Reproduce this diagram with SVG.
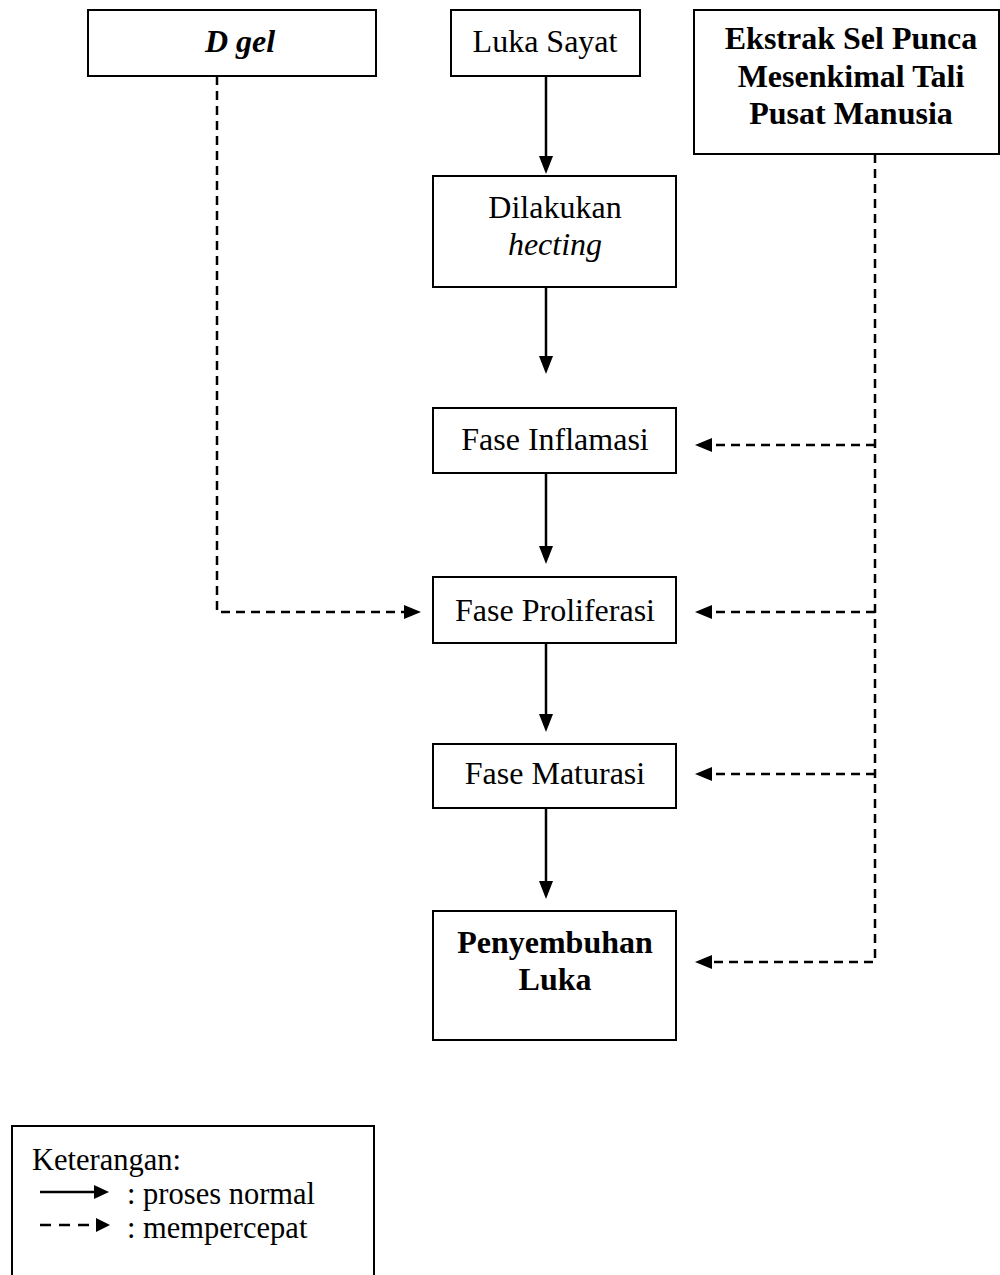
<svg xmlns="http://www.w3.org/2000/svg" width="1000" height="1275" viewBox="0 0 1000 1275">
<style>
.box{fill:#fff;stroke:#000;stroke-width:2}
.t{font-family:"Liberation Serif","Times New Roman",serif;font-size:32px;fill:#000;text-anchor:middle}
.b{font-weight:bold}
.i{font-style:italic}
.lg{font-family:"Liberation Serif","Times New Roman",serif;font-size:30.5px;fill:#000}
.s{stroke:#000;stroke-width:2.5;fill:none}
.d{stroke:#000;stroke-width:2.5;fill:none;stroke-dasharray:9,6}
.ah{fill:#000}
</style>
<rect width="1000" height="1275" fill="#fff"/>
<g id="connectors">
  <line class="s" x1="546" y1="76" x2="546" y2="158"/>
  <polygon class="ah" points="539,156 553,156 546,174"/>
  <line class="s" x1="546" y1="287" x2="546" y2="358"/>
  <polygon class="ah" points="539,356 553,356 546,374"/>
  <line class="s" x1="546" y1="473" x2="546" y2="548"/>
  <polygon class="ah" points="539,546 553,546 546,564"/>
  <line class="s" x1="546" y1="643" x2="546" y2="716"/>
  <polygon class="ah" points="539,714 553,714 546,732"/>
  <line class="s" x1="546" y1="808" x2="546" y2="883"/>
  <polygon class="ah" points="539,881 553,881 546,899"/>
  <polyline class="d" points="217,76 217,612 406,612"/>
  <polygon class="ah" points="404,605 404,619 421,612"/>
  <polyline class="d" points="875,154 875,962 712,962"/>
  <line class="d" x1="875" y1="445" x2="712" y2="445"/>
  <line class="d" x1="875" y1="612" x2="712" y2="612"/>
  <line class="d" x1="875" y1="774" x2="712" y2="774"/>
  <polygon class="ah" points="712,438 712,452 695,445"/>
  <polygon class="ah" points="712,605 712,619 695,612"/>
  <polygon class="ah" points="712,767 712,781 695,774"/>
  <polygon class="ah" points="712,955 712,969 695,962"/>
</g>
<g id="dgel"><rect class="box" x="88" y="10" width="288" height="66"/><text class="t b i" x="240" y="52">D gel</text></g>
<g id="luka-sayat"><rect class="box" x="451" y="10" width="189" height="66"/><text class="t" x="545" y="52">Luka Sayat</text></g>
<g id="ekstrak"><rect class="box" x="694" y="10" width="305" height="144"/><text class="t b" x="851" y="49">Ekstrak Sel Punca</text><text class="t b" x="851" y="87">Mesenkimal Tali</text><text class="t b" x="851" y="124">Pusat Manusia</text></g>
<g id="hecting"><rect class="box" x="433" y="176" width="243" height="111"/><text class="t" x="555" y="218">Dilakukan</text><text class="t i" x="555" y="255">hecting</text></g>
<g id="inflamasi"><rect class="box" x="433" y="408" width="243" height="65"/><text class="t" x="555" y="450">Fase Inflamasi</text></g>
<g id="proliferasi"><rect class="box" x="433" y="577" width="243" height="66"/><text class="t" x="555" y="621">Fase Proliferasi</text></g>
<g id="maturasi"><rect class="box" x="433" y="744" width="243" height="64"/><text class="t" x="555" y="784">Fase Maturasi</text></g>
<g id="penyembuhan"><rect class="box" x="433" y="911" width="243" height="129"/><text class="t b" x="555" y="953">Penyembuhan</text><text class="t b" x="555" y="990">Luka</text></g>
<g id="legend">
  <polyline class="box" points="12,1280 12,1126 374,1126 374,1280"/>
  <text class="lg" x="32" y="1170">Keterangan:</text>
  <line class="s" x1="40" y1="1192" x2="96" y2="1192"/>
  <polygon class="ah" points="94,1185 94,1199 109,1192"/>
  <text class="lg" x="127" y="1204">: proses normal</text>
  <line class="d" x1="40" y1="1225" x2="96" y2="1225" style="stroke-dasharray:11,8"/>
  <polygon class="ah" points="96,1218 96,1232 110,1225"/>
  <text class="lg" x="127" y="1238">: mempercepat</text>
</g>
</svg>
